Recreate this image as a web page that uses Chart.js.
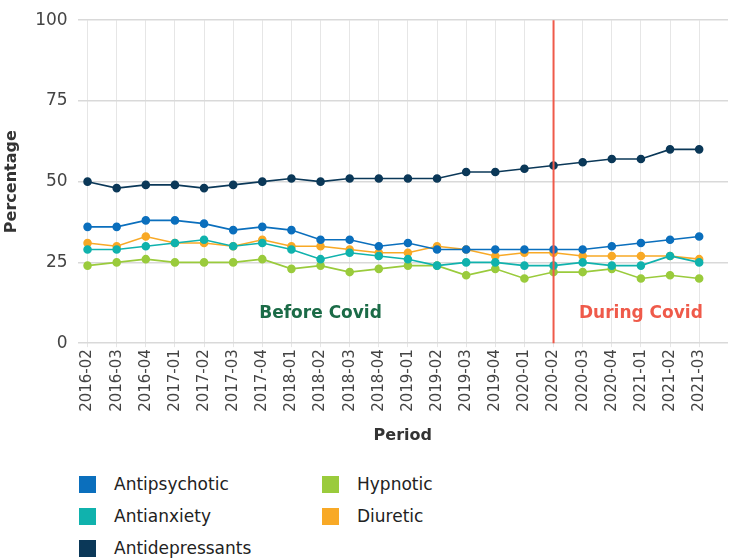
<!DOCTYPE html>
<html>
<head>
<meta charset="utf-8">
<script src="https://cdn.jsdelivr.net/npm/chart.js@4"></script>
<style>
    body { margin: 0; background: #fff; font-family: "DejaVu Sans", sans-serif; }
    #wrap { position: relative; width: 739px; height: 558px; }
    #chartBox { position: absolute; left: 0; top: 0; width: 739px; height: 445px; }
    #legend { position: absolute; left: 79px; top: 468px; display: grid; grid-template-rows: repeat(3, 32px); grid-auto-flow: column; grid-template-columns: 243px 200px; }
    .item { display: flex; align-items: center; font-size: 17px; color: #222; }
    .box { width: 17px; height: 17px; margin-right: 18px; }
</style>
</head>
<body>
<div id="wrap">
    <div id="chartBox"><canvas id="drugChart"></canvas></div>
    <div id="legend"></div>
</div>
<script>
const periods = ['2016-02', '2016-03', '2016-04', '2017-01', '2017-02', '2017-03', '2017-04', '2018-01', '2018-02', '2018-03', '2018-04',
    '2019-01', '2019-02', '2019-03', '2019-04', '2020-01', '2020-02', '2020-03', '2020-04', '2021-01', '2021-02', '2021-03'];
const antipsychotic = [36, 36, 38, 38, 37, 35, 36, 35, 32, 32, 30, 31, 29, 29, 29, 29, 29, 29, 30, 31, 32, 33];
const antianxiety = [29, 29, 30, 31, 32, 30, 31, 29, 26, 28, 27, 26, 24, 25, 25, 24, 24, 25, 24, 24, 27, 25];
const antidepressants = [50, 48, 49, 49, 48, 49, 50, 51, 50, 51, 51, 51, 51, 53, 53, 54, 55, 56, 57, 57, 60, 60];
const hypnotic = [24, 25, 26, 25, 25, 25, 26, 23, 24, 22, 23, 24, 24, 21, 23, 20, 22, 22, 23, 20, 21, 20];
const diuretic = [31, 30, 33, 31, 31, 30, 32, 30, 30, 29, 28, 28, 30, 29, 27, 28, 28, 27, 27, 27, 27, 26];
const yTicks = [0, 25, 50, 75, 100];

const covidStart = '2020-02'; // 빨간 세로선 위치
const beforeLabel = { text: 'Before Covid', at: '2018-02', y: 9, color: '#1b6b47' };
const duringLabel = { text: 'During Covid', at: '2021-01', y: 9, color: '#ef5a4a' };

const font = '"DejaVu Sans", sans-serif';

function toPoints(values) {
    return values.map(function (v, i) { return { x: i, y: v }; });
}

function makeSet(label, values, color) {
    return {
        label: label,
        data: toPoints(values),
        borderColor: color,
        backgroundColor: color,
        pointBackgroundColor: color,
        pointBorderColor: color,
        pointRadius: 3.5,
        pointHoverRadius: 4,
        borderWidth: 1.6,
        tension: 0
    };
}

const datasets = [
    makeSet('Antipsychotic', antipsychotic, '#0b6fbd'),
    makeSet('Antianxiety', antianxiety, '#10b2ad'),
    makeSet('Antidepressants', antidepressants, '#0b3858'),
    makeSet('Hypnotic', hypnotic, '#9acb3c'),
    makeSet('Diuretic', diuretic, '#f8a926')
];

/* 코로나 구분선과 텍스트 */
const covidPlugin = {
    id: 'covid',
    afterDatasetsDraw: function (chart) {
        const ctx = chart.ctx;
        const xs = chart.scales.x;
        const ys = chart.scales.y;
        const xLine = xs.getPixelForValue(periods.indexOf(covidStart));
        ctx.save();
        ctx.strokeStyle = '#ef5a4a';
        ctx.lineWidth = 2;
        ctx.beginPath();
        ctx.moveTo(xLine, ys.getPixelForValue(100));
        ctx.lineTo(xLine, ys.getPixelForValue(0));
        ctx.stroke();
        ctx.font = 'bold 17px ' + font;
        ctx.textAlign = 'center';
        ctx.textBaseline = 'middle';
        [beforeLabel, duringLabel].forEach(function (l) {
            ctx.fillStyle = l.color;
            ctx.fillText(l.text, xs.getPixelForValue(periods.indexOf(l.at)), ys.getPixelForValue(l.y));
        });
        ctx.restore();
    }
};

const chart = new Chart(document.getElementById('drugChart'), {
    type: 'line',
    data: { datasets: datasets },
    options: {
        responsive: true,
        maintainAspectRatio: false,
        animation: false,
        layout: { padding: { top: 4, right: 11, left: 0, bottom: 0 } },
        plugins: {
            legend: { display: false },
            tooltip: { enabled: false }
        },
        scales: {
            x: {
                type: 'linear',
                min: -0.34,
                max: 21.99,
                border: { display: false },
                grid: { color: '#e6e6e6', lineWidth: 1, drawTicks: true, tickLength: 4 },
                ticks: {
                    stepSize: 1,
                    includeBounds: false,
                    autoSkip: false,
                    maxRotation: 90,
                    minRotation: 90,
                    padding: 2,
                    color: '#444',
                    font: { family: font, size: 15 },
                    callback: function (v) { return periods[v] !== undefined ? periods[v] : ''; }
                },
                title: { display: true, text: 'Period', color: '#333', font: { family: font, size: 16, weight: 'bold' }, padding: { top: 12, bottom: 0 } }
            },
            y: {
                min: 0,
                max: 100,
                afterBuildTicks: function (axis) {
                    axis.ticks = yTicks.map(function (v) { return { value: v }; });
                },
                border: { display: false },
                grid: { color: '#d9d9d9', lineWidth: 1.5, drawTicks: false },
                ticks: { padding: 10, color: '#444', font: { family: font, size: 17 } },
                title: { display: true, text: 'Percentage', color: '#333', font: { family: font, size: 16, weight: 'bold' }, padding: { top: 2, bottom: 4 } }
            }
        }
    },
    plugins: [covidPlugin]
});

/* 범례 */
const legendEl = document.getElementById('legend');
datasets.forEach(function (ds) {
    const item = document.createElement('div');
    item.className = 'item';
    const box = document.createElement('span');
    box.className = 'box';
    box.style.background = ds.borderColor;
    const txt = document.createElement('span');
    txt.textContent = ds.label;
    item.appendChild(box);
    item.appendChild(txt);
    legendEl.appendChild(item);
});
</script>
</body>
</html>
